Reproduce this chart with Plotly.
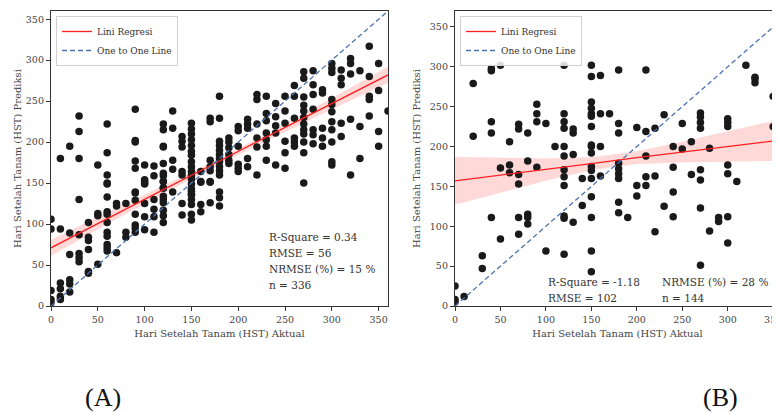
import plotly.graph_objects as go

# ---------------- data ----------------
A_actual = [10,20,30,30,30,50,60,60,60,60,
            90,90,90,90,90,90,100,100,100,110,110,
            120,120,120,120,120,120,120,120,120,
            130,130,130,130,140,140,140,140,140,
            150,150,150,150,150,150,150,150,150,150,150,150,150,150,150,
            160,160,170,170,170,170,170,170,
            180,180,180,180,180,180,180,180,180,180,180,
            190,190,190,190,190,190,200,200,200,200,200,200,
            210,210,210,210,210,220,220,220,220,220,220,
            230,230,230,230,230,230,230,240,240,240,240,240,
            250,250,250,250,250,250,260,260,260,260,260,260,
            270,270,270,270,270,270,270,270,270,270,270,270,
            280,280,280,280,280,280,280,290,290,290,290,290,
            300,300,300,300,300,300,300,300,300,300,300,
            310,310,310,310,310,320,320,320,320,320,330,330,330,
            340,340,340,340,340,350,350,350,350,360,
            0,0,0,0,0,10,10,10,10,10,20,20,20,20,20,30,30,30,30,30,
            40,40,40,40,40,40,50,50,50,
            60,60,60,60,60,60,60,60,60,60,70,70,70,80,80,80,
            90,90,90,90,90,90,100,100,100,100,100,110,110,110,110,
            120,120,120,120,120,120,120,120,130,140,140,
            150,150,150,150,150,150,160,160,160,170,170,180,180,180]
A_pred = [180,195,232,213,180,172,222,187,160,150,
          240,202,200,177,168,138,172,154,150,171,159,
          222,215,195,194,174,162,159,152,144,
          238,217,178,167,207,201,194,164,160,
          223,216,210,203,196,189,184,176,170,164,159,155,149,143,136,
          164,152,229,225,178,170,165,152,
          256,229,201,196,190,185,180,176,170,165,160,
          205,200,193,185,178,174,219,214,195,173,168,164,
          228,222,217,180,170,258,252,222,205,194,160,
          256,235,226,211,203,195,178,247,231,220,211,172,
          256,238,223,201,187,168,269,256,229,205,200,195,
          286,278,255,245,238,230,222,215,210,200,187,150,
          287,270,258,240,215,209,198,264,260,217,205,195,
          296,290,285,252,246,237,225,215,200,176,172,
          288,278,270,223,207,302,296,283,228,160,287,219,180,
          317,280,256,252,232,296,263,213,195,238,
          106,94,19,8,4,94,28,21,12,8,89,63,32,27,17,130,87,64,59,54,
          102,84,80,69,42,40,113,110,51,
          149,133,115,112,102,90,85,75,71,67,125,122,65,125,90,84,
          139,129,112,99,95,90,152,149,125,109,93,130,118,109,90,
          152,144,134,130,126,117,110,102,139,125,111,
          140,136,130,124,112,105,151,124,115,151,126,139,132,122]

B_actual = [20,20,40,40,40,40,50,50,60,60,60,
            70,70,70,70,80,80,90,90,90,90,100,110,
            120,120,120,120,120,120,120,120,120,
            130,130,130,140,
            150,150,150,150,150,150,150,150,150,150,150,150,150,150,
            160,160,160,160,170,180,180,180,180,180,180,180,
            200,200,200,210,210,210,210,210,
            220,220,230,240,240,240,250,250,260,260,
            270,270,270,270,270,270,280,
            300,300,300,300,300,310,320,330,330,330,350,350,
            0,0,0,10,30,30,40,50,70,70,80,80,80,100,
            120,120,120,130,140,150,150,150,180,180,190,220,230,240,270,270,280,290,290,300,300]
B_pred = [279,213,298,295,231,217,302,173,206,177,167,
          228,222,165,153,182,217,253,241,231,174,229,200,
          302,241,231,223,200,188,171,162,151,
          222,217,190,160,
          302,288,256,248,241,238,225,202,200,192,175,170,160,137,
          289,241,200,163,241,296,229,217,179,172,166,160,
          224,151,138,296,219,188,162,151,
          223,163,240,200,174,143,229,197,206,165,
          242,237,230,223,171,158,198,
          235,230,225,177,166,156,302,287,285,280,263,225,
          25,8,5,12,63,47,111,84,111,90,115,111,103,69,
          113,110,65,105,126,111,69,43,130,117,111,93,125,112,123,51,94,111,106,112,79]

# regression line and 95% band
A_reg_x = [0, 60, 120, 180, 240, 300, 360]
A_reg_y = [71, 107, 142, 177, 212, 247, 282]
A_reg_lo = [61, 100, 137, 173, 207, 240, 272]
A_reg_hi = [81, 114, 146, 180, 216, 254, 292]

B_reg_x = [0, 50, 100, 150, 200, 250, 300, 350]
B_reg_y = [157, 164, 171, 178.5, 186, 193, 200, 207]
B_reg_lo = [127, 142, 157, 170.5, 178, 180, 181, 182]
B_reg_hi = [187, 186, 185, 186.5, 194, 206, 219, 232]

one_line = [0, 400]

A_stats = ["R-Square = 0.34", "RMSE = 56", "NRMSE (%) = 15 %", "n = 336"]
B_stats_left = ["R-Square = -1.18", "RMSE = 102"]
B_stats_right = ["NRMSE (%) = 28 %", "n = 144"]

x_title = "Hari Setelah Tanam (HST) Aktual"
y_title = "Hari Setelah Tanam (HST) Prediksi"
tick_vals = [0, 50, 100, 150, 200, 250, 300, 350]

# ---------------- figure ----------------
FONT = "DejaVu Serif"
RED = "#ff2020"
BLUE = "#4c72b0"
OFF = 8                      # page body margin
W, H = 780 - OFF, 412 - OFF  # figure size that fills the window


def px(sx):
    return (sx - OFF) / W


def py(sy):
    return (412 - sy) / H


fig = go.Figure()


def add_panel(xa, ya, ax, ay, rx, ry, rlo, rhi, legend):
    fig.add_trace(go.Scatter(x=rx + rx[::-1], y=rhi + rlo[::-1], mode="lines", fill="toself",
                             fillcolor="rgba(255,60,60,0.2)", line=dict(width=0),
                             hoverinfo="skip", showlegend=False, xaxis=xa, yaxis=ya))
    fig.add_trace(go.Scatter(x=ax, y=ay, mode="markers",
                             marker=dict(size=7.5, color="#1a1a1a"),
                             showlegend=False, xaxis=xa, yaxis=ya))
    fig.add_trace(go.Scatter(x=rx, y=ry, mode="lines", line=dict(color=RED, width=1.3),
                             name="Lini Regresi", legend=legend, xaxis=xa, yaxis=ya))
    fig.add_trace(go.Scatter(x=one_line, y=one_line, mode="lines",
                             line=dict(color=BLUE, width=1.3, dash="5px,3px"),
                             name="One to One Line", legend=legend, xaxis=xa, yaxis=ya))


add_panel("x", "y", A_actual, A_pred, A_reg_x, A_reg_y, A_reg_lo, A_reg_hi, "legend")
add_panel("x2", "y2", B_actual, B_pred, B_reg_x, B_reg_y, B_reg_lo, B_reg_hi, "legend2")

axis_common = dict(showgrid=False, zeroline=False, showline=True, linecolor="#333",
                   linewidth=1.3, ticks="outside", ticklen=4, tickwidth=1.1,
                   tickcolor="#333", tickfont=dict(family=FONT, size=9.5, color="#444"),
                   tickvals=tick_vals, automargin=False)
title_font = dict(family=FONT, size=10, color="#444")
legend_common = dict(xanchor="left", yanchor="top", bgcolor="rgba(255,255,255,0.85)",
                     bordercolor="#d0d0d0", borderwidth=1,
                     font=dict(family=FONT, size=9, color="#333"), itemwidth=30,
                     tracegroupgap=0)

fig.update_layout(
    width=W, height=H, margin=dict(l=0, r=0, t=0, b=0, autoexpand=False),
    paper_bgcolor="white", plot_bgcolor="white",
    font=dict(family=FONT, size=10, color="#333"),
    xaxis=dict(domain=[px(51), px(388)], range=[0, 360], mirror=True,
               title=dict(text=x_title, font=title_font, standoff=6),
               anchor="y", **axis_common),
    yaxis=dict(domain=[py(306), py(11)], range=[0, 360], mirror=True,
               title=dict(text=y_title, font=title_font, standoff=2),
               anchor="x", **axis_common),
    xaxis2=dict(domain=[px(455), 1.0], range=[0, 357.5], mirror=True,
                title=dict(text=x_title, font=title_font, standoff=6),
                anchor="y2", ticklabeloverflow="allow", **axis_common),
    yaxis2=dict(domain=[py(306), py(11)], range=[0, 370],
                title=dict(text=y_title, font=title_font, standoff=6.5),
                anchor="x2", **axis_common),
    legend=dict(x=px(56), y=py(16), **legend_common),
    legend2=dict(x=px(460), y=py(16), **legend_common),
)

annots = []
stat_font = dict(family=FONT, size=10.5, color="#333")
for i, t in enumerate(A_stats):
    annots.append(dict(text=t, x=px(267), y=py(237 + 16 * i), xref="paper", yref="paper",
                       xanchor="left", yanchor="middle", showarrow=False, font=stat_font))
for i, t in enumerate(B_stats_left):
    annots.append(dict(text=t, x=px(546), y=py(282 + 16 * i), xref="paper", yref="paper",
                       xanchor="left", yanchor="middle", showarrow=False, font=stat_font))
for i, t in enumerate(B_stats_right):
    annots.append(dict(text=t, x=px(660), y=py(282 + 16 * i), xref="paper", yref="paper",
                       xanchor="left", yanchor="middle", showarrow=False, font=stat_font))
for lab, sx in (("(A)", 103), ("(B)", 720)):
    annots.append(dict(text=lab, x=px(sx), y=py(397), xref="paper", yref="paper",
                       xanchor="center", yanchor="middle", showarrow=False,
                       font=dict(family="Liberation Serif", size=26, color="#111")))
fig.update_layout(annotations=annots)

fig.write_html("out.html")
